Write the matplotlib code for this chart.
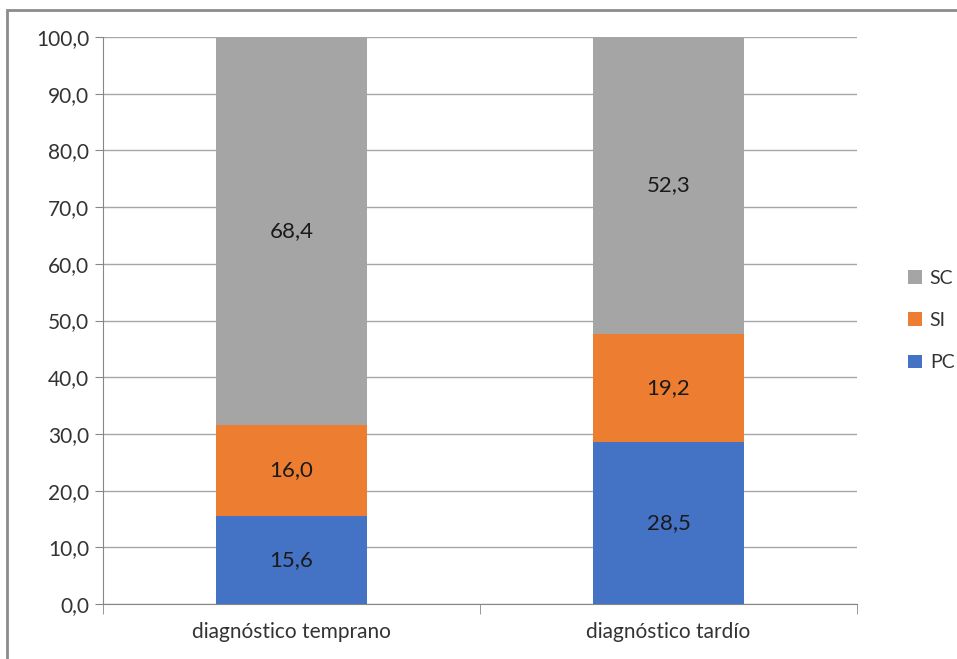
import matplotlib.pyplot as plt
from matplotlib.patches import Rectangle
from matplotlib.ticker import MultipleLocator, FuncFormatter

categorias = ['diagnóstico temprano', 'diagnóstico tardío']
pc = [15.6, 28.5]
si = [16.0, 19.2]
sc = [68.4, 52.3]

plt.rcParams['font.family'] = ['Lato', 'DejaVu Sans']

W, H = 957, 659
fig = plt.figure(figsize=(W / 100, H / 100), dpi=100)
ax = fig.add_axes([103 / W, 1 - 604 / H, 754 / W, 567 / H])

# marco gris del gráfico
fig.patches.append(Rectangle((7 / W, -0.05), 1.0, 1 - 10 / H + 0.05,
                             transform=fig.transFigure, fill=False,
                             edgecolor='#8c8c8c', linewidth=2))

x = range(len(categorias))
ancho = 0.4
b1 = ax.bar(x, pc, ancho, color='#4472c4', label='PC', zorder=3)
base2 = pc
b2 = ax.bar(x, si, ancho, bottom=base2, color='#ed7d31', label='SI', zorder=3)
base3 = [a + b for a, b in zip(pc, si)]
b3 = ax.bar(x, sc, ancho, bottom=base3, color='#a5a5a5', label='SC', zorder=3)

fmt = lambda v: f'{v:.1f}'.replace('.', ',')
for barras, valores in ((b1, pc), (b2, si), (b3, sc)):
    ax.bar_label(barras, labels=[fmt(v) for v in valores], label_type='center',
                 fontsize=16, color='#1a1a1a')

ax.set_xlim(-0.5, 1.5)
ax.set_ylim(0, 100)
ax.yaxis.set_major_locator(MultipleLocator(10))
ax.yaxis.set_major_formatter(FuncFormatter(lambda v, p: fmt(v)))
ax.grid(axis='y', color='#a6a6a6', linewidth=1, zorder=0)

ax.set_xticks(list(x))
ax.set_xticklabels(categorias)
ax.set_xticks([-0.5, 0.5, 1.5], minor=True)
ax.tick_params(axis='x', which='major', length=0, pad=13, labelsize=15, labelcolor='#333333')
ax.tick_params(axis='x', which='minor', length=7, color='#868686')
ax.tick_params(axis='y', length=6, color='#868686', labelsize=15, labelcolor='#333333', pad=4)

for lado in ('top', 'right'):
    ax.spines[lado].set_visible(False)
for lado in ('left', 'bottom'):
    ax.spines[lado].set_color('#868686')

handles = [b3, b2, b1]
ax.legend(handles, ['SC', 'SI', 'PC'], loc='center left', bbox_to_anchor=(1.045, 0.5),
          frameon=False, fontsize=14, handlelength=0.7, handleheight=0.7,
          labelspacing=1.3, handletextpad=0.4, labelcolor='#333333')

fig.savefig('out.png', dpi=100)
